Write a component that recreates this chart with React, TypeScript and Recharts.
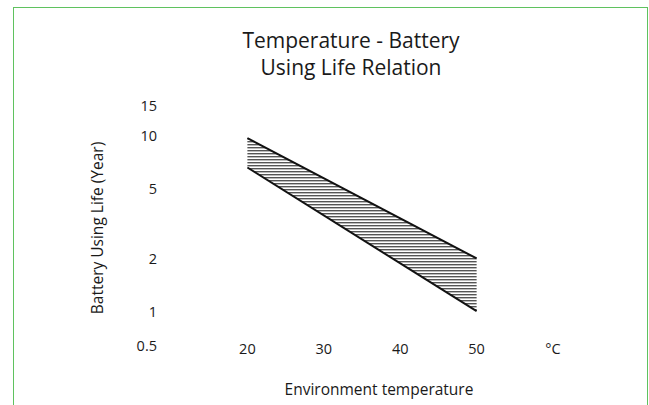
import { Area, ComposedChart, Line, XAxis, YAxis } from "recharts";

// temperature (°C) at the two ends of the band
const temps = [20, 50];
// battery using life (years), upper and lower edge of the band
const lifeUpper = [9.7, 2];
const lifeLower = [6.6, 1];

const xTicks = [20, 30, 40, 50, 60];
const xTickLabels = ["20", "30", "40", "50", "°C"];
const yTicks = [0.5, 1, 2, 5, 10, 15];

const data = temps.map((t, i) => ({
  t,
  high: lifeUpper[i],
  low: lifeLower[i],
  range: [lifeLower[i], lifeUpper[i]],
}));

const font = "'Open Sans', 'Noto Sans', sans-serif";
const ink = "#1a1a1a";

function XTick({ x, y, payload }: any) {
  const i = xTicks.indexOf(payload.value);
  return (
    <text x={x} y={y - 16} textAnchor="middle" dominantBaseline="central" fontSize={14.5} fill={ink} fontFamily={font}>
      {xTickLabels[i]}
    </text>
  );
}

function YTick({ x, y, payload }: any) {
  // the 0.5 label sits on the level of the x labels, above its log position
  const off = payload.value === 0.5 ? -19 : 0;
  return (
    <text x={x} y={y + off} textAnchor="end" dominantBaseline="central" fontSize={14.5} fill={ink} fontFamily={font}>
      {payload.value}
    </text>
  );
}

export default function App() {
  return (
    <div style={{ position: "absolute", left: 0, top: 0, width: 649, height: 405, overflow: "hidden", background: "#fff" }}>
      <div
        style={{
          position: "absolute",
          left: 13,
          top: 7,
          width: 633,
          height: 420,
          border: "1.5px solid #5fc25f",
        }}
      />
      <div style={{ position: "absolute", left: 0, top: 0 }}>
        <ComposedChart width={649} height={405} data={data} margin={{ top: 105, right: 96, bottom: 11, left: 0 }}>
          <defs>
            <pattern id="hatch" patternUnits="userSpaceOnUse" width={6} height={3}>
              <rect x={0} y={0} width={6} height={1.4} fill="#555" />
            </pattern>
          </defs>
          <text x={351} y={48} textAnchor="middle" fontSize={21} fill={ink} fontFamily={font}>
            Temperature - Battery
          </text>
          <text x={351} y={75} textAnchor="middle" fontSize={21} fill={ink} fontFamily={font}>
            Using Life Relation
          </text>
          <text x={379} y={395} textAnchor="middle" fontSize={15.5} fill={ink} fontFamily={font}>
            Environment temperature
          </text>
          <text
            x={103}
            y={228}
            textAnchor="middle"
            fontSize={15.5}
            fill={ink}
            fontFamily={font}
            transform="rotate(-90 103 228)"
          >
            Battery Using Life (Year)
          </text>
          <XAxis
            type="number"
            dataKey="t"
            domain={[10, 60]}
            ticks={xTicks}
            axisLine={false}
            tickLine={false}
            tickSize={0}
            tickMargin={0}
            height={30}
            tick={<XTick />}
            allowDataOverflow
          />
          <YAxis
            scale="log"
            domain={[0.5, 15]}
            ticks={yTicks}
            axisLine={false}
            tickLine={false}
            tickSize={0}
            tickMargin={14}
            width={171}
            tick={<YTick />}
            allowDataOverflow
          />
          <Area dataKey="range" fill="url(#hatch)" fillOpacity={1} stroke="none" isAnimationActive={false} />
          <Line dataKey="high" stroke="#111" strokeWidth={2} dot={false} isAnimationActive={false} />
          <Line dataKey="low" stroke="#111" strokeWidth={2} dot={false} isAnimationActive={false} />
        </ComposedChart>
      </div>
    </div>
  );
}
